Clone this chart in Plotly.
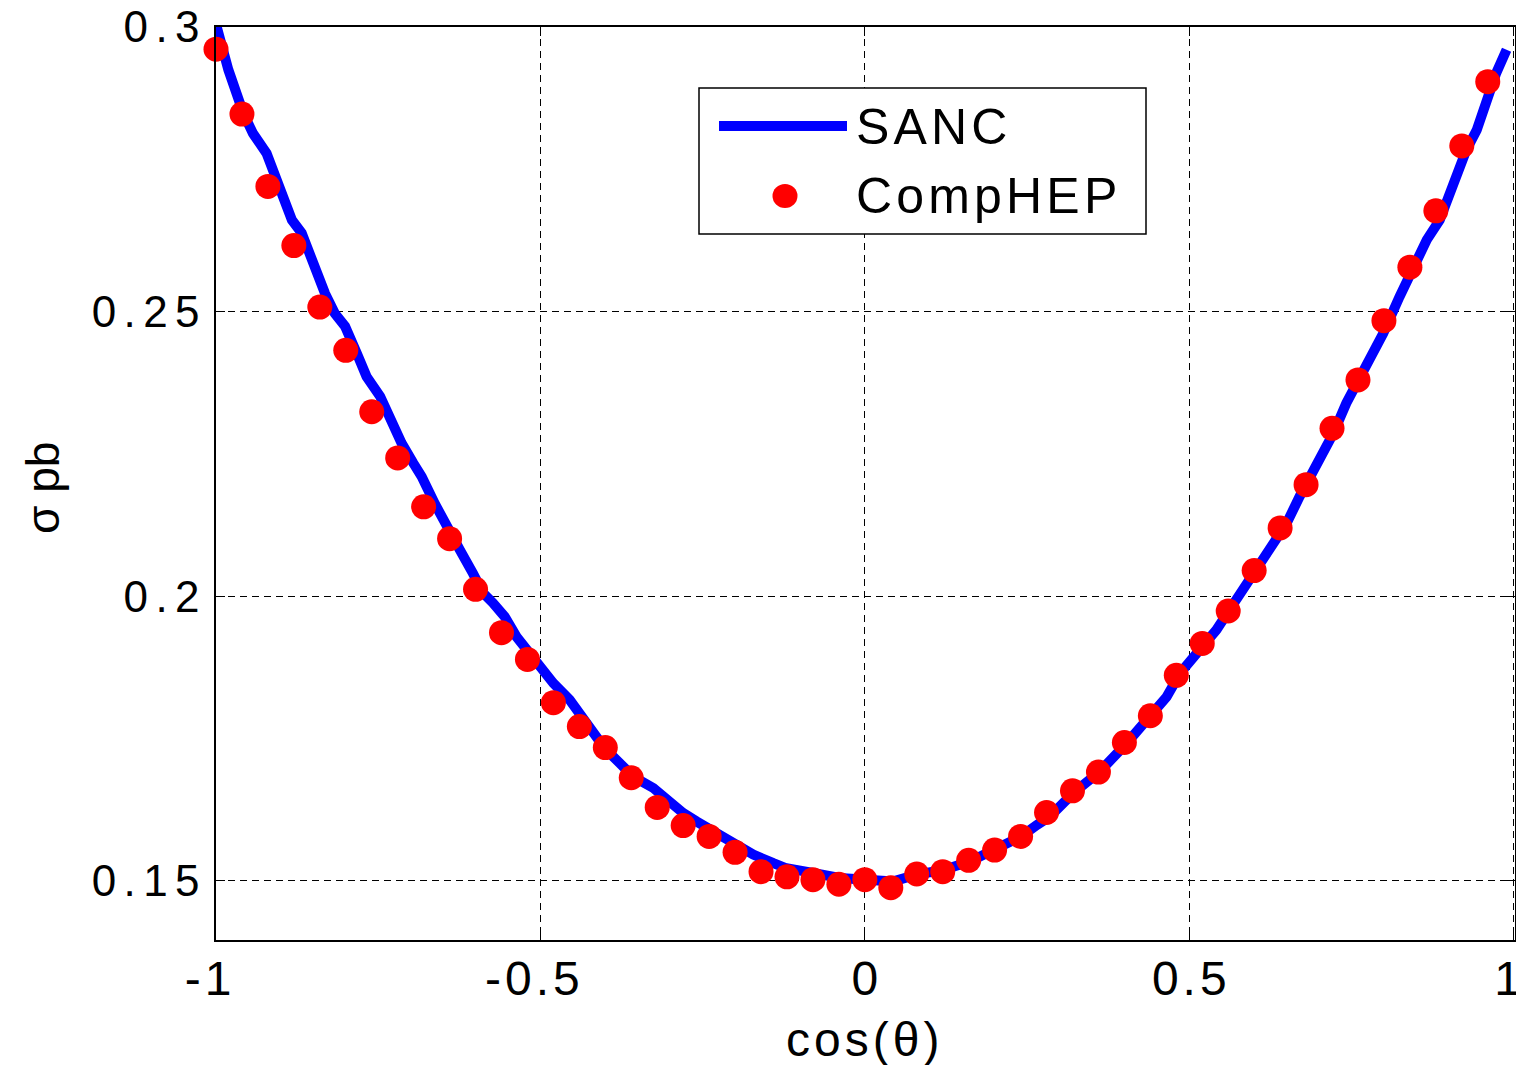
import plotly.graph_objects as go

# CompHEP points
comphep_x = [-1.00, -0.96, -0.92, -0.88, -0.84, -0.80, -0.76, -0.72, -0.68, -0.64,
             -0.60, -0.56, -0.52, -0.48, -0.44, -0.40, -0.36, -0.32, -0.28, -0.24,
             -0.20, -0.16, -0.12, -0.08, -0.04, 0.00, 0.04, 0.08, 0.12, 0.16,
             0.20, 0.24, 0.28, 0.32, 0.36, 0.40, 0.44, 0.48, 0.52, 0.56,
             0.60, 0.64, 0.68, 0.72, 0.76, 0.80, 0.84, 0.88, 0.92, 0.96]
comphep_y = [0.2961, 0.2847, 0.2720, 0.2616, 0.2508, 0.2432, 0.2324, 0.2243, 0.2157, 0.2101,
             0.2012, 0.1936, 0.1889, 0.1813, 0.1771, 0.1734, 0.1681, 0.1629, 0.1597, 0.1578,
             0.1550, 0.1516, 0.1507, 0.1502, 0.1494, 0.1502, 0.1488, 0.1512, 0.1516, 0.1536,
             0.1554, 0.1578, 0.1620, 0.1658, 0.1691, 0.1743, 0.1790, 0.1861, 0.1917, 0.1974,
             0.2045, 0.2120, 0.2196, 0.2295, 0.2380, 0.2484, 0.2578, 0.2677, 0.2791, 0.2904]

# SANC curve
sanc_x = [-1.000, -0.981, -0.958, -0.943, -0.922, -0.904, -0.883, -0.868, -0.853, -0.832,
          -0.817, -0.801, -0.783, -0.768, -0.747, -0.729, -0.714, -0.696, -0.683, -0.663,
          -0.645, -0.624, -0.604, -0.588, -0.573, -0.555, -0.537, -0.521, -0.501, -0.480,
          -0.455, -0.429, -0.401, -0.378, -0.357, -0.326, -0.306, -0.280, -0.259, -0.234,
          -0.203, -0.172, -0.141, -0.121, -0.080, -0.039, 0.003, 0.044, 0.080, 0.121,
          0.162, 0.198, 0.241, 0.265, 0.285, 0.321, 0.362, 0.403, 0.439, 0.465,
          0.486, 0.511, 0.542, 0.562, 0.583, 0.604, 0.629, 0.650, 0.670, 0.686,
          0.706, 0.722, 0.742, 0.773, 0.799, 0.824, 0.845, 0.866, 0.886, 0.907,
          0.927, 0.943, 0.958, 0.973, 0.989]
sanc_y = [0.3005, 0.2925, 0.2849, 0.2813, 0.2778, 0.2720, 0.2661, 0.2638, 0.2591, 0.2532,
          0.2497, 0.2474, 0.2427, 0.2386, 0.2351, 0.2304, 0.2269, 0.2234, 0.2210, 0.2163,
          0.2122, 0.2081, 0.2040, 0.2005, 0.1988, 0.1964, 0.1929, 0.1906, 0.1876, 0.1847,
          0.1818, 0.1777, 0.1733, 0.1707, 0.1683, 0.1663, 0.1642, 0.1619, 0.1604, 0.1587,
          0.1566, 0.1546, 0.1531, 0.1522, 0.1514, 0.1505, 0.1502, 0.1499, 0.1511, 0.1519,
          0.1534, 0.1554, 0.1578, 0.1598, 0.1613, 0.1654, 0.1692, 0.1741, 0.1788, 0.1823,
          0.1865, 0.1897, 0.1941, 0.1976, 0.2011, 0.2046, 0.2093, 0.2128, 0.2175, 0.2210,
          0.2245, 0.2286, 0.2339, 0.2403, 0.2462, 0.2526, 0.2573, 0.2626, 0.2661, 0.2726,
          0.2784, 0.2819, 0.2872, 0.2919, 0.2960]

x_tickvals = [-1, -0.5, 0, 0.5, 1]
x_ticktext = ["-1", "-0.5", "0", "0.5", "1"]
y_tickvals = [0.15, 0.2, 0.25, 0.3]
y_ticktext = ["0.15", "0.2", "0.25", "0.3"]

SIXTH = "\u2006"
HAIR = "\u200A"
THREE_PER_EM = "\u2004"
FOUR_PER_EM = "\u2005"
def spaced(s, sp):
    return sp.join(list(s))

def xlabel(s):
    t = spaced(s, HAIR)
    # negative labels (and the last one) sit a little left of their tick in the reference
    if s.startswith("-"):
        return t + THREE_PER_EM
    if s == "1":
        return t + FOUR_PER_EM
    return t

FONT = "Liberation Sans, Arial, sans-serif"
BLUE = "#0000FF"
RED = "#FF0000"

# page body has an 8px margin: design coordinates are in screen pixels
OFF = 8
SW, SH = 1524, 1065
W, H = SW - OFF, SH - OFF
PL, PR, PT, PB = 216, 1515, 27, 940          # plot area in screen pixels
ML, MT = PL - OFF, PT - OFF
MR, MB = (OFF + W) - PR, (OFF + H) - PB
PW, PH = PR - PL, PB - PT

def px_x(p):
    return (p - PL) / PW

def px_y(p):
    return (PB - p) / PH

fig = go.Figure()
fig.add_trace(go.Scatter(x=sanc_x, y=sanc_y, mode="lines", name="SANC",
                         line=dict(color=BLUE, width=10), showlegend=False))
fig.add_trace(go.Scatter(x=comphep_x, y=comphep_y, mode="markers", name="CompHEP",
                         marker=dict(color=RED, size=25, line=dict(width=0)),
                         cliponaxis=False, showlegend=False))

axis_common = dict(
    showline=True, linecolor="black", linewidth=1.5, mirror="ticks",
    ticks="inside", ticklen=9, tickcolor="black", tickwidth=1,
    showgrid=True, gridcolor="black", gridwidth=1, griddash="7px,5px",
    zeroline=False, ticklabeloverflow="allow",
)
fig.update_xaxes(range=[-1, 1.002], tickvals=x_tickvals,
                 ticktext=[xlabel(t) for t in x_ticktext],
                 tickfont=dict(family=FONT, size=48, color="black"),
                 ticklabelstandoff=-4, **axis_common)
fig.update_yaxes(range=[0.1396, 0.3], tickvals=y_tickvals,
                 ticktext=[spaced(t, SIXTH) for t in y_ticktext],
                 tickfont=dict(family=FONT, size=44, color="black"),
                 ticklabelstandoff=6, **axis_common)

# axis titles
fig.add_annotation(text=spaced("cos(θ)", HAIR), xref="paper", yref="paper",
                   x=px_x(862), y=px_y(1039), xanchor="center", yanchor="middle",
                   showarrow=False, font=dict(family=FONT, size=48, color="black"))
fig.add_annotation(text="σ pb", xref="paper", yref="paper",
                   x=px_x(43), y=px_y(488), xanchor="center", yanchor="middle",
                   textangle=-90, showarrow=False,
                   font=dict(family=FONT, size=46, color="black"))

# legend box drawn manually
fig.add_shape(type="rect", xref="paper", yref="paper",
              x0=px_x(699), x1=px_x(1146), y0=px_y(234), y1=px_y(88),
              line=dict(color="black", width=1.5), fillcolor="white", layer="above")
fig.add_shape(type="line", xref="paper", yref="paper",
              x0=px_x(719), x1=px_x(847), y0=px_y(126), y1=px_y(126),
              line=dict(color=BLUE, width=10), layer="above")
fig.add_shape(type="circle", xref="paper", yref="paper",
              x0=px_x(785 - 12.5), x1=px_x(785 + 12.5),
              y0=px_y(196 + 12), y1=px_y(196 - 12),
              line=dict(width=0), fillcolor=RED, layer="above")
fig.add_annotation(text=spaced("SANC", HAIR), xref="paper", yref="paper",
                   x=px_x(854), y=px_y(127), xanchor="left", yanchor="middle",
                   showarrow=False, font=dict(family=FONT, size=50, color="black"))
fig.add_annotation(text=spaced("CompHEP", HAIR), xref="paper", yref="paper",
                   x=px_x(854), y=px_y(196), xanchor="left", yanchor="middle",
                   showarrow=False, font=dict(family=FONT, size=50, color="black"))

fig.update_layout(
    width=W, height=H,
    margin=dict(l=ML, r=MR, t=MT, b=MB, autoexpand=False),
    paper_bgcolor="white", plot_bgcolor="white",
    showlegend=False,
)

fig.write_html("out.html")
